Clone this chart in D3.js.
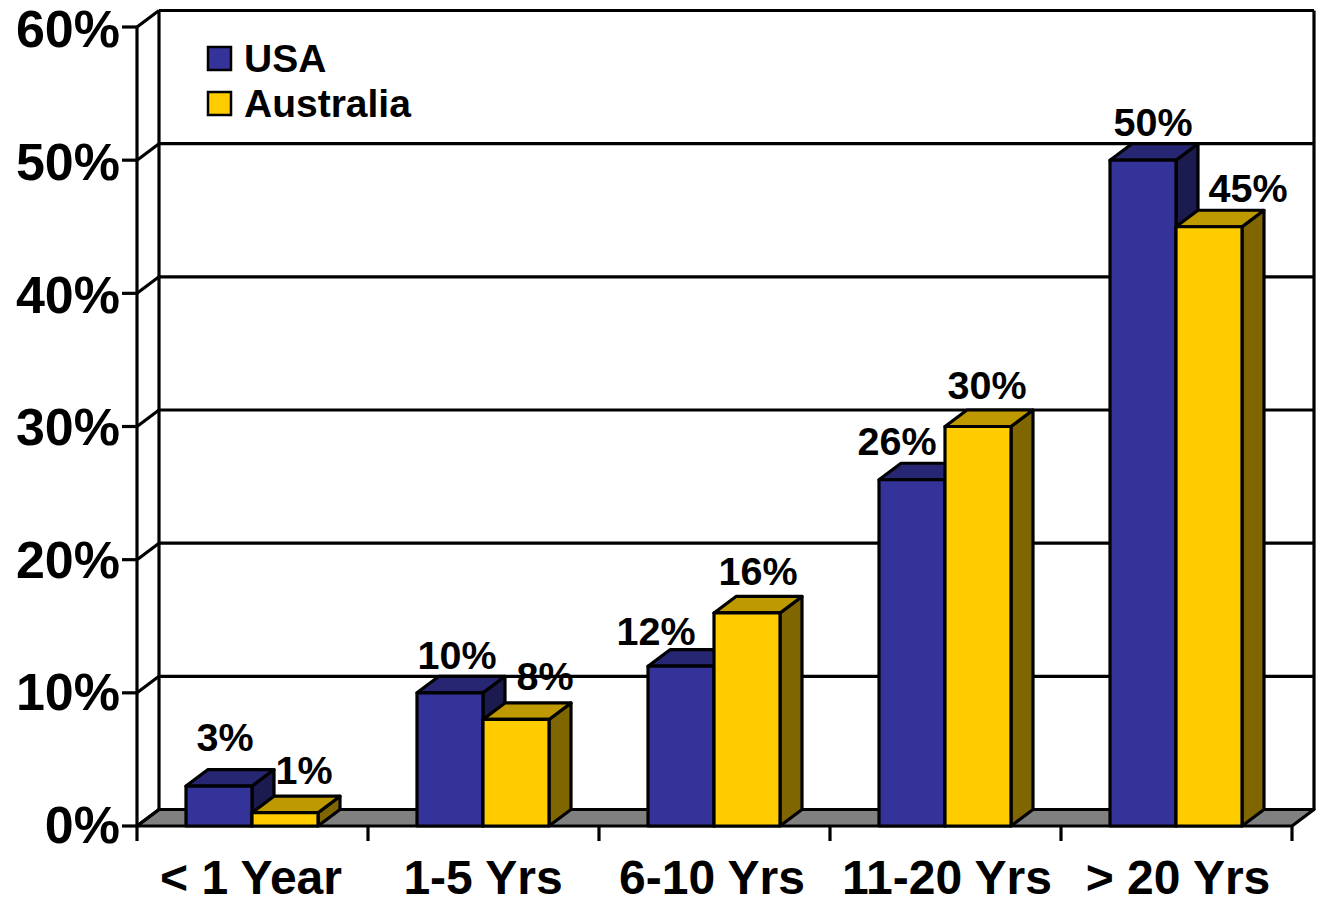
<!DOCTYPE html>
<html><head><meta charset="utf-8">
<script src="https://cdn.jsdelivr.net/npm/d3@7"></script>
<style>html,body{margin:0;padding:0;background:#fff}svg{display:block}text{font-family:"Liberation Sans",Arial,sans-serif;font-weight:700;fill:#000}</style>
</head><body><svg id="c" width="1320" height="903"></svg>
<script>
const categories=["< 1 Year","1-5 Yrs","6-10 Yrs","11-20 Yrs","> 20 Yrs"];
const usa=[3,10,12,26,50];
const australia=[1,8,16,30,45];
const yTicks=[0,10,20,30,40,50,60];
const seriesNames=["USA","Australia"];
const seriesColors=[{f:"#333399",t:"#262673",s:"#1b1b4f"},{f:"#ffcc00",t:"#bf9900",s:"#806600"}];

const svg=d3.select("#c");
const dx=22,dy=-16.5,sw=3.2;
const x=d3.scaleBand().domain(categories).range([137,1292]);
const y=d3.scaleLinear().domain([0,60]).range([826,27]);
const yLabel=d3.scaleLinear().domain([0,60]).range([843,47.4]);
const inner=d3.scaleBand().domain([0,1]).range([49,x.bandwidth()-50]);
const poly=(pts,fill)=>svg.append("polygon").attr("points",pts.map(p=>p.join(",")).join(" ")).attr("fill",fill).attr("stroke","#000").attr("stroke-width",sw).attr("stroke-linejoin","round");
const line=(a,b,c,d)=>svg.append("line").attr("x1",a).attr("y1",b).attr("x2",c).attr("y2",d).attr("stroke","#000").attr("stroke-width",sw);

const [L,R]=x.range();
poly([[L,y(0)],[R,y(0)],[R+dx,y(0)+dy],[L+dx,y(0)+dy]],"#808080");
yTicks.forEach(t=>{
  if(t>0) line(L+dx,y(t)+dy,R+dx,y(t)+dy);
  line(L,y(t),L+dx,y(t)+dy);
  line(L-15,y(t),L,y(t));
  svg.append("text").attr("x",120).attr("y",yLabel(t)).attr("text-anchor","end").attr("font-size",52).text(t+"%");
});
line(L,y(0),L,y(60));
line(L+dx,y(0)+dy,L+dx,y(60)+dy);
line(R+dx,y(0)+dy,R+dx,y(60)+dy);
x.domain().concat([null]).forEach(c=>{const px=c===null?R:x(c);line(px,y(0),px,y(0)+15);});
const catX=[251,483,712,947,1178];
categories.forEach((c,i)=>{svg.append("text").attr("x",catX[i]).attr("y",894).attr("text-anchor","middle").attr("font-size",48).text(c);});
function bar(x0,x1,v,col){
  const t=y(v),b=y(0);
  poly([[x1,b],[x1+dx,b+dy],[x1+dx,t+dy],[x1,t]],col.s);
  poly([[x0,t],[x1,t],[x1+dx,t+dy],[x0+dx,t+dy]],col.t);
  poly([[x0,t],[x1,t],[x1,b],[x0,b]],col.f);
}
categories.forEach((c,i)=>{
  [usa,australia].forEach((s,j)=>{
    const a=x(c)+inner(j),w=inner.bandwidth();
    bar(a,a+w,s[i],seriesColors[j]);
  });
});
const usaLabelX=[225,457,656,897,1153],usaLabelY=[751,669,645,455,136];
const ausLabelX=[304,545,758,987,1248],ausLabelY=[784,690,585,399,202];
categories.forEach((c,i)=>{
  svg.append("text").attr("x",usaLabelX[i]).attr("y",usaLabelY[i]).attr("text-anchor","middle").attr("font-size",39.5).text(usa[i]+"%");
  svg.append("text").attr("x",ausLabelX[i]).attr("y",ausLabelY[i]).attr("text-anchor","middle").attr("font-size",39.5).text(australia[i]+"%");
});
seriesNames.forEach((n,i)=>{
  const ly=[47,92][i];
  svg.append("rect").attr("x",208).attr("y",ly).attr("width",23).attr("height",23).attr("fill",seriesColors[i].f).attr("stroke","#000").attr("stroke-width",2.5);
  svg.append("text").attr("x",244).attr("y",ly+25).attr("font-size",39).text(n);
});
</script></body></html>
